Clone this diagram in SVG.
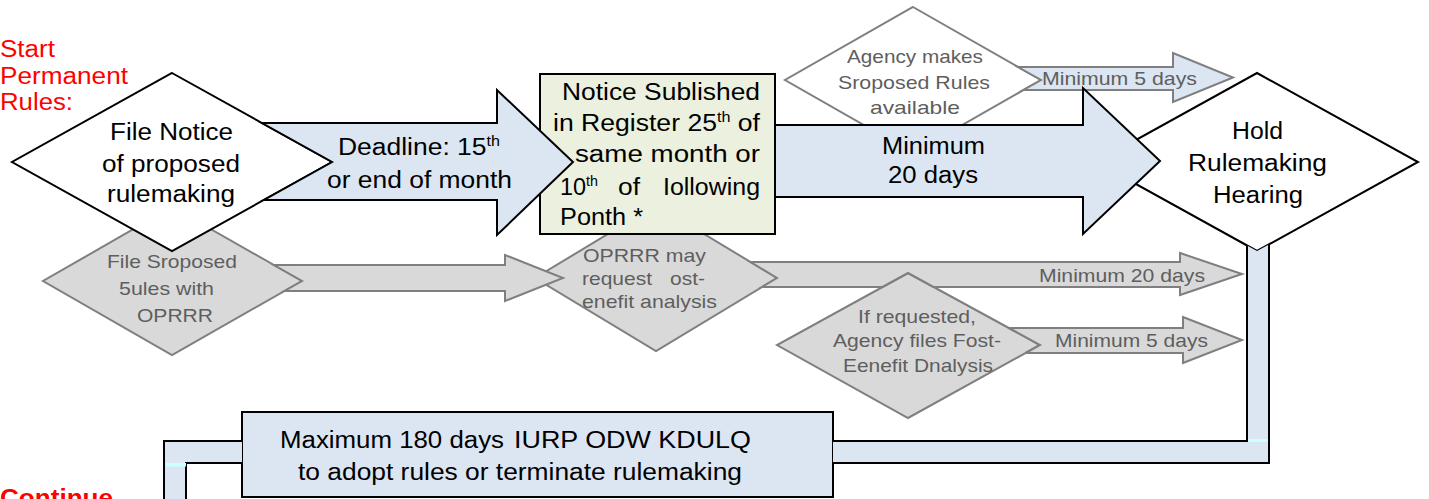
<svg xmlns="http://www.w3.org/2000/svg" width="1429" height="499" viewBox="0 0 1429 499">
<style>
.blk{fill:#DCE6F2;stroke:#000;stroke-width:2;stroke-linejoin:miter}
.gry{fill:#D9D9D9;stroke:#7F7F7F;stroke-width:2}
.gryb{fill:#DCE6F2;stroke:#7F7F7F;stroke-width:2}
.dw{fill:#fff;stroke:#000;stroke-width:2}
.dgw{fill:#fff;stroke:#7F7F7F;stroke-width:2}
.note{fill:#EBF1DE;stroke:#000;stroke-width:2}
.pf{fill:#DCE6F2;stroke:none}
.ps{fill:none;stroke:#000;stroke-width:2}
text{font-family:"Liberation Sans",Arial,sans-serif}
.t{font-size:23px;fill:#000}
.tg{font-size:19px;fill:#5E5E5E}
.tr{font-size:23px;fill:#FF0000}
</style>

<g id="label-start">
<text class="tr" x="0" y="57" textLength="55" lengthAdjust="spacingAndGlyphs">Start</text>
<text class="tr" x="0" y="84" textLength="128" lengthAdjust="spacingAndGlyphs">Permanent</text>
<text class="tr" x="0" y="110" textLength="73" lengthAdjust="spacingAndGlyphs">Rules:</text>
</g>
<g id="label-continue">
<text class="tr" x="0" y="506" font-weight="bold" textLength="113" lengthAdjust="spacingAndGlyphs">Continue</text>
</g>

<g id="node-agency-proposed">
<polygon class="dgw" points="913,7 1041,80 913,153 785,80"/>
</g>
<g id="node-cost-benefit-filed">
<polygon class="gry" points="908,273 1040,345 908,418 777,345"/>
</g>
<g id="node-oprrr-request">
<polygon class="gry" points="656,205 777,278 656,351 535,278"/>
</g>
<g id="node-file-oprrr">
<polygon class="gry" points="172,207 302,281 172,355 43,281"/>
</g>
<g id="node-file-notice">
<polygon class="dw" points="172,73 332,162 172,251 12,162"/>
</g>
<g id="node-notice-published">
<rect class="note" x="540" y="74" width="235" height="160"/>
</g>
<g id="node-hearing">
<polygon class="dw" points="1257,73 1418,162 1257,251 1096,162"/>
</g>
<g id="node-max-180">
<rect class="blk" x="242" y="412" width="591" height="85"/>
</g>

<g id="connectors">
<!-- pipe from hearing to max box -->
<path class="pf" d="M1247,245.5 L1257,251 L1269,244.4 L1269,463 L833,463 L833,441 L1247,441 Z"/>
<path class="ps" d="M1247,245.5 L1247,441 L833,441"/>
<path class="ps" d="M1269,244.4 L1269,463 L833,463"/>
<rect x="1248" y="439" width="20" height="3" fill="#CCFFFF"/>
<!-- pipe continuing down-left -->
<path class="pf" d="M242,441 L164,441 L164,505 L186,505 L186,463 L242,463 Z"/>
<path class="ps" d="M242,441 L164,441 L164,505"/>
<path class="ps" d="M242,463 L186,463 L186,505"/>
<rect x="166" y="463" width="20" height="3.5" fill="#CCFFFF"/>
<!-- top small arrow -->
<polygon class="gryb" points="1018,67 1173,67 1173,53 1233,77.5 1173,102 1173,90 1023.5,90 1041,80"/>
<!-- gray arrow min 20 days -->
<polygon class="gry" points="750.5,262 1180,262 1180,253 1242,274 1180,295 1180,287 933.5,287 908,273 882.5,287 762,287 777,278"/>
<!-- gray arrow lower min 5 days -->
<polygon class="gry" points="1009,328 1183,328 1183,317 1242,340 1183,363 1183,353 1025.5,353 1040,345"/>
<!-- gray arrow 1 -->
<polygon class="gry" points="274,265 505,265 505,255 563,278 505,301 505,291 284.5,291 302,281"/>
<!-- black arrow 1 -->
<polygon class="blk" points="262,123 497,123 497,90 573,162 497,235 497,200 264,200 332,162"/>
<!-- black arrow 2 -->
<polygon class="blk" points="775,125 1083,125 1083,88 1160,161 1083,234 1083,197 775,197"/>
</g>

<g id="labels">
<text class="t" x="110" y="140" textLength="123" lengthAdjust="spacingAndGlyphs">File Notice</text>
<text class="t" x="102" y="172" textLength="138" lengthAdjust="spacingAndGlyphs">of proposed</text>
<text class="t" x="107" y="202" textLength="128" lengthAdjust="spacingAndGlyphs">rulemaking</text>

<text class="t" x="338" y="155" textLength="162" lengthAdjust="spacingAndGlyphs">Deadline: 15<tspan dy="-9" font-size="14">th</tspan></text>
<text class="t" x="327" y="188" textLength="185" lengthAdjust="spacingAndGlyphs">or end of month</text>

<text class="t" x="562" y="100" textLength="198" lengthAdjust="spacingAndGlyphs">Notice Sublished</text>
<text class="t" x="553" y="131" textLength="207" lengthAdjust="spacingAndGlyphs">in Register 25<tspan dy="-9" font-size="14">th</tspan><tspan dy="9"> of</tspan></text>
<text class="t" x="575" y="162" textLength="185" lengthAdjust="spacingAndGlyphs">same month or</text>
<text class="t" x="560" y="195" textLength="38" lengthAdjust="spacingAndGlyphs">10<tspan dy="-9" font-size="14">th</tspan></text>
<text class="t" x="618" y="195" textLength="22" lengthAdjust="spacingAndGlyphs">of</text>
<text class="t" x="663" y="195" textLength="97" lengthAdjust="spacingAndGlyphs">Iollowing</text>
<text class="t" x="560" y="225" textLength="83" lengthAdjust="spacingAndGlyphs">Ponth *</text>

<text class="t" x="882" y="154" textLength="103" lengthAdjust="spacingAndGlyphs">Minimum</text>
<text class="t" x="888" y="183" textLength="90" lengthAdjust="spacingAndGlyphs">20 days</text>

<text class="t" x="1232" y="139" textLength="51" lengthAdjust="spacingAndGlyphs">Hold</text>
<text class="t" x="1188" y="171" textLength="139" lengthAdjust="spacingAndGlyphs">Rulemaking</text>
<text class="t" x="1213" y="203" textLength="90" lengthAdjust="spacingAndGlyphs">Hearing</text>

<text class="tg" x="847" y="63" textLength="136" lengthAdjust="spacingAndGlyphs">Agency makes</text>
<text class="tg" x="838" y="89" textLength="152" lengthAdjust="spacingAndGlyphs">Sroposed Rules</text>
<text class="tg" x="870" y="114" textLength="90" lengthAdjust="spacingAndGlyphs">available</text>
<text class="tg" x="1042" y="85" textLength="155" lengthAdjust="spacingAndGlyphs">Minimum 5 days</text>

<text class="tg" x="107" y="268" textLength="130" lengthAdjust="spacingAndGlyphs">File Sroposed</text>
<text class="tg" x="119" y="295" textLength="95" lengthAdjust="spacingAndGlyphs">5ules with</text>
<text class="tg" x="137" y="322" textLength="76" lengthAdjust="spacingAndGlyphs">OPRRR</text>

<text class="tg" x="583" y="262" textLength="123" lengthAdjust="spacingAndGlyphs">OPRRR may</text>
<text class="tg" x="582" y="285" textLength="70" lengthAdjust="spacingAndGlyphs">request</text>
<text class="tg" x="670" y="285" textLength="35" lengthAdjust="spacingAndGlyphs">ost-</text>
<text class="tg" x="582" y="308" textLength="135" lengthAdjust="spacingAndGlyphs">enefit analysis</text>

<text class="tg" x="1039" y="282" textLength="166" lengthAdjust="spacingAndGlyphs">Minimum 20 days</text>
<text class="tg" x="858" y="323" textLength="118" lengthAdjust="spacingAndGlyphs">If requested,</text>
<text class="tg" x="833" y="347" textLength="168" lengthAdjust="spacingAndGlyphs">Agency files Fost-</text>
<text class="tg" x="843" y="372" textLength="150" lengthAdjust="spacingAndGlyphs">Eenefit Dnalysis</text>
<text class="tg" x="1055" y="347" textLength="153" lengthAdjust="spacingAndGlyphs">Minimum 5 days</text>

<text class="t" x="280" y="448" textLength="224" lengthAdjust="spacingAndGlyphs">Maximum 180 days</text>
<text class="t" x="514" y="448" textLength="237" lengthAdjust="spacingAndGlyphs">IURP ODW KDULQ</text>
<text class="t" x="298" y="480" textLength="444" lengthAdjust="spacingAndGlyphs">to adopt rules or terminate rulemaking</text>
</g>
</svg>
